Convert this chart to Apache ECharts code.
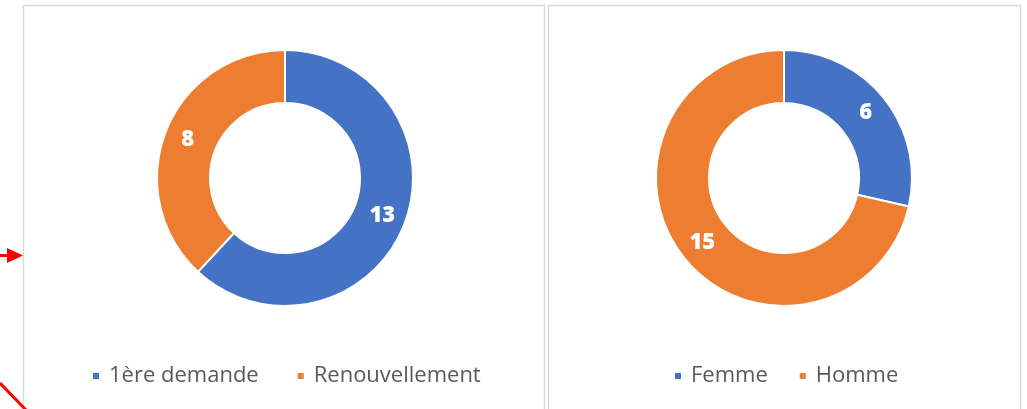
<!DOCTYPE html>
<html>
<head>
<meta charset="utf-8">
<script src="https://cdn.jsdelivr.net/npm/echarts@6/dist/echarts.min.js"></script>
<style>
html,body{margin:0;padding:0;background:#fff;}
#c{width:1027px;height:409px;}
</style>
</head>
<body>
<div id="c"></div>
<script>
const demandeCategories = ['1ère demande', 'Renouvellement'];
const demandeValues = [13, 8];
const sexeCategories = ['Femme', 'Homme'];
const sexeValues = [6, 15];
const colors = ['#4472C4', '#ED7D31'];

const chart = echarts.init(document.getElementById('c'), null, {renderer: 'canvas'});

function pieData(cats, vals) {
  return cats.map((n, i) => ({name: n, value: vals[i], itemStyle: {color: colors[i]}}));
}

const labelStyle = {
  show: true,
  position: 'inner',
  formatter: '{c}',
  color: '#ffffff',
  fontSize: 22,
  fontWeight: 800,
  fontFamily: 'Open Sans'
};

const legendBase = {
  icon: 'rect',
  itemWidth: 8,
  itemHeight: 8,
  top: 360,
  textStyle: {color: '#595959', fontSize: 22, fontFamily: 'Open Sans', padding: [0, 0, 0, 4]}
};

chart.setOption({
  animation: false,
  backgroundColor: '#ffffff',
  graphic: [
    {type: 'rect', shape: {x: 23.5, y: 5.5, width: 521, height: 420}, style: {fill: 'none', stroke: '#d9d9d9', lineWidth: 1.5}, z: -1},
    {type: 'rect', shape: {x: 548.5, y: 5.5, width: 472, height: 420}, style: {fill: 'none', stroke: '#d9d9d9', lineWidth: 1.5}, z: -1},
    {type: 'polyline', shape: {points: [[0, 255.5], [10, 255.5]]}, style: {stroke: '#ff0000', lineWidth: 3}},
    {type: 'polygon', shape: {points: [[7, 248], [23, 255.5], [7, 263]]}, style: {fill: '#ff0000'}},
    {type: 'polyline', shape: {points: [[0, 383], [26, 410]]}, style: {stroke: '#ff0000', lineWidth: 3}}
  ],
  legend: [
    Object.assign({}, legendBase, {data: demandeCategories, left: 86, itemGap: 37}),
    Object.assign({}, legendBase, {data: sexeCategories, left: 668, itemGap: 30})
  ],
  series: [
    {
      type: 'pie',
      center: [285, 178],
      radius: [75, 128],
      startAngle: 90,
      clockwise: true,
      label: labelStyle,
      labelLine: {show: false},
      itemStyle: {borderColor: '#ffffff', borderWidth: 2},
      emphasis: {disabled: true},
      data: pieData(demandeCategories, demandeValues)
    },
    {
      type: 'pie',
      center: [784, 178],
      radius: [75, 128],
      startAngle: 90,
      clockwise: true,
      label: labelStyle,
      labelLine: {show: false},
      itemStyle: {borderColor: '#ffffff', borderWidth: 2},
      emphasis: {disabled: true},
      data: pieData(sexeCategories, sexeValues)
    }
  ]
});
</script>
</body>
</html>
